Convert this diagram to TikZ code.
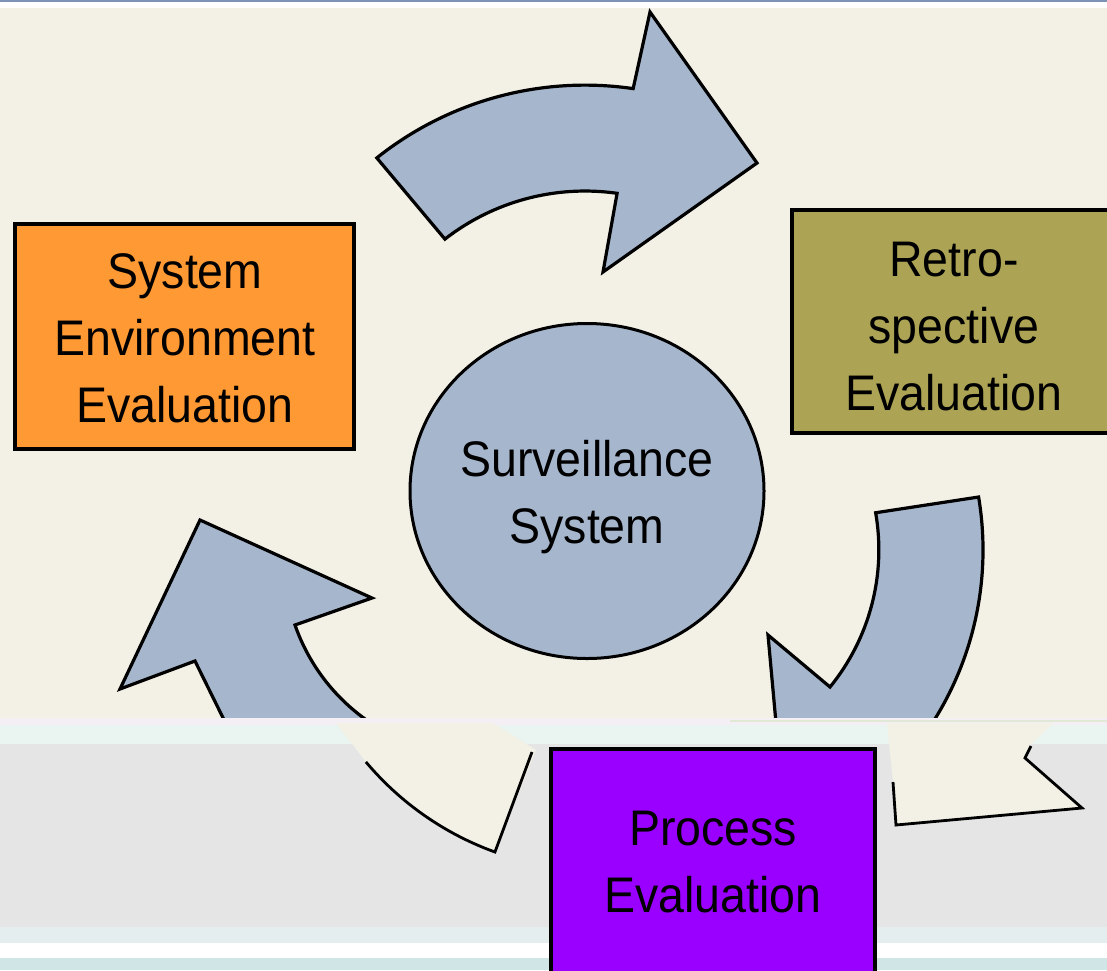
\documentclass[tikz,border=0pt]{standalone}
\usepackage{fontspec}
\setmainfont{Liberation Sans}[FakeStretch=0.93]
\usetikzlibrary{shapes.geometric}
\definecolor{cream}{RGB}{243,241,230}
\definecolor{topline}{RGB}{125,147,182}
\definecolor{shapeblue}{RGB}{166,183,205}
\definecolor{boxorange}{RGB}{255,153,51}
\definecolor{boxolive}{RGB}{172,164,84}
\definecolor{boxpurple}{RGB}{153,0,255}
\definecolor{bandgray}{RGB}{229,229,229}
\definecolor{paleA}{RGB}{244,239,244}
\definecolor{paleB}{RGB}{234,244,240}
\definecolor{paleC}{RGB}{228,238,238}
\definecolor{cyanish}{RGB}{208,229,229}
\definecolor{bandline}{RGB}{226,232,214}
\begin{document}
\begin{tikzpicture}[x=1pt,y=-1pt,
  blockarrow/.style={fill=shapeblue,draw=black,line width=3.2pt,line join=miter},
  evalbox/.style={rectangle,draw=black,line width=4pt,inner sep=0pt},
  lbl/.style={font=\fontsize{50}{67}\selectfont,align=center,inner sep=0pt,text depth=0pt},
  fragfill/.style={fill=cream},
  fragline/.style={draw=black,line width=2.8pt,line join=miter}]
\useasboundingbox (0,0) rectangle (1107,970);
\clip (0,0) rectangle (1107,970);

% backdrop
\fill[cream] (0,0) rectangle (1107,718);
\fill[white] (0,2) rectangle (1107,8);
\fill[topline] (0,0) rectangle (1107,2.2);

% cycle arrows: each body is a ring sector with an arrow head
\filldraw[blockarrow] (376.8,157.9) arc[start angle=-128.55, end angle=-81.7, radius=334]
  -- (650,12) -- (757,163) -- (603,272) -- (617.1,193.3)
  arc[start angle=-81.9, end angle=-127.9, radius=228] -- cycle;
\filldraw[blockarrow] (978.6,497.0) arc[start angle=-9.5, end angle=35, radius=321]
  -- (777,734) -- (768,635) -- (830,687)
  arc[start angle=39.2, end angle=-9.85, radius=217] -- cycle;
\filldraw[blockarrow] (200,520) -- (372,598) -- (295,625)
  arc[start angle=160.8, end angle=117.5, radius=195]
  -- (231,734) -- (195,661) -- (120,689) -- cycle;

% centre and the two upper evaluation boxes
\node[ellipse,draw=black,line width=3pt,fill=shapeblue,minimum width=354pt,minimum height=335pt,inner sep=0pt] (core) at (587,491) {};
\node[lbl] (coretext) at (587,491.5) {Surveillance\\System};

\node[evalbox,fill=boxorange,minimum width=339pt,minimum height=225pt] (sysenv) at (184.5,336.5) {};
\node[lbl] (sysenvtext) at (185,338) {System\\Environment\\Evaluation};

\node[evalbox,fill=boxolive,minimum width=328pt,minimum height=223pt] (retro) at (956,321.5) {};
\node[lbl] (retrotext) at (954,326) {Retro-\\spective\\Evaluation};

% lower band
\fill[paleA] (0,718) rectangle (1107,725);
\fill[paleB] (0,725) rectangle (1107,744);
\draw[bandline,line width=1.5pt] (730,721) -- (1107,721);
\fill[bandgray] (0,744) rectangle (1107,927);
\fill[paleC] (0,927) rectangle (1107,943);
\fill[white] (0,943) rectangle (1107,958);
\fill[cyanish] (0,958) rectangle (1107,970);

% arrow pieces showing in the band
\fill[fragfill] (336,723) -- (493,723) -- (536,750) -- (495,852)
  arc[start angle=109.85, end angle=140, radius=302.6] -- cycle;
\draw[fragline] (365.9,761.9) arc[start angle=140, end angle=109.85, radius=302.6] -- (532,752);
\fill[fragfill] (887,723) -- (1054,723) -- (1030,745) -- (1025,758) -- (1082,808) -- (896,825) -- (893,782) -- cycle;
\draw[fragline] (893,782) -- (896,825) -- (1082,808) -- (1025,758) -- (1031,746);

% process evaluation box
\node[evalbox,fill=boxpurple,minimum width=324pt,minimum height=260pt] (process) at (713,879) {};
\node[lbl] (processtext) at (713,861.5) {Process\\Evaluation};
\end{tikzpicture}
\end{document}
